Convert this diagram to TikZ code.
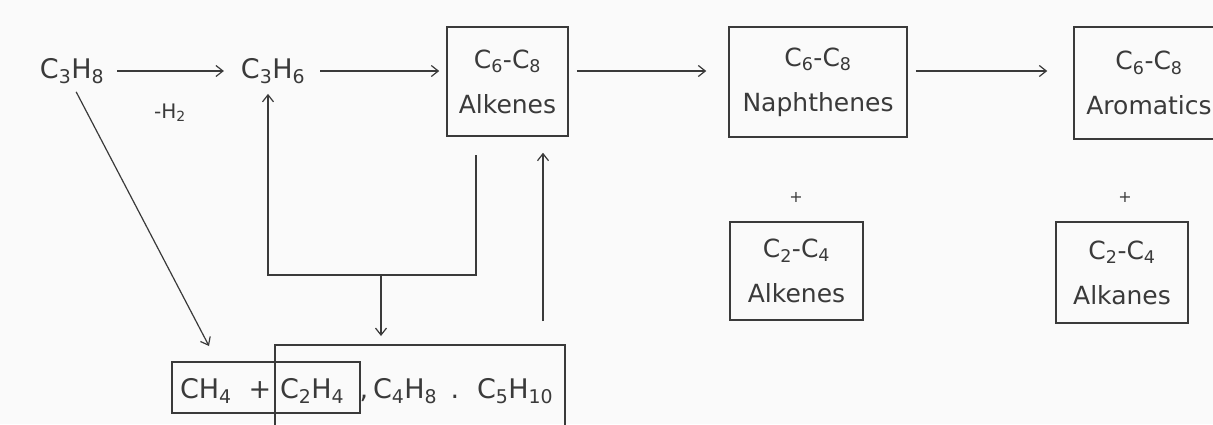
\documentclass[tikz,border=0pt]{standalone}
\usepackage{fontspec}
\setmainfont{DejaVu Sans}
\usetikzlibrary{arrows.meta}
\definecolor{ink}{HTML}{3A3A3A}
\definecolor{paper}{HTML}{FAFAFA}
\newcommand\chsub[1]{\textsubscript{#1}}

\begin{document}
\begin{tikzpicture}[x=1pt,y=-1pt,
  every node/.style={text=ink},
  chem/.style={inner sep=0pt, outer sep=0pt, font=\fontsize{27}{32}\selectfont},
  note/.style={inner sep=0pt, font=\fontsize{20}{24}\selectfont},
  stage/.style={draw=ink, line width=1.5pt, inner sep=0pt, align=center,
    font=\fontsize{25}{45}\selectfont},
  frame/.style={draw=ink, line width=1.4pt, inner sep=0pt},
  flow/.style={draw=ink, line width=1.2pt,
    -{Straight Barb[length=7pt,width=11pt,line width=1.2pt]}},
  plain/.style={draw=ink, line width=1.2pt}]

% page
\fill[paper] (0,0) rectangle (1213,424);
\useasboundingbox (0,0) rectangle (1213,424);

% feed and first product
\node[chem] (c3h8) at (72,71) {C\chsub{3}H\chsub{8}};
\node[chem] (c3h6) at (273,71) {C\chsub{3}H\chsub{6}};
\node[note] (dehyd) at (170,113) {-H\chsub{2}};

% main reaction stages
\node[stage, minimum width=121, minimum height=109] (alk) at (507.5,81.5)
  {C\chsub{6}-C\chsub{8}\\Alkenes};
\node[stage, minimum width=178, minimum height=110] (naph) at (818,82)
  {C\chsub{6}-C\chsub{8}\\Naphthenes};
\node[stage, minimum width=150, minimum height=112] (arom) at (1149,83)
  {C\chsub{6}-C\chsub{8}\\Aromatics};

% by-products
\node[note, font=\fontsize{16}{18}\selectfont] (plusA) at (796,197) {+};
\node[note, font=\fontsize{16}{18}\selectfont] (plusB) at (1125,197) {+};
\node[stage, minimum width=133, minimum height=98] (c24e) at (796.5,271)
  {C\chsub{2}-C\chsub{4}\\Alkenes};
\node[stage, minimum width=132, minimum height=101] (c24a) at (1122,272.5)
  {C\chsub{2}-C\chsub{4}\\Alkanes};

% cracking products
\node[frame, minimum width=188, minimum height=51] (light) at (266,387.5) {};
\draw[plain, line width=1.4pt] (275,440) |- (565,345) -- (565,440);
\coordinate (heavytop) at (381,345);
\node[chem, anchor=base west] (ch4) at (180,398) {CH\chsub{4}};
\node[chem, anchor=base] (plusG) at (260,398) {+};
\node[chem, anchor=base west] (c2h4) at (280,398) {C\chsub{2}H\chsub{4}};
\node[chem, anchor=base] (sepA) at (364,398) {,};
\node[chem, anchor=base west] (c4h8) at (373,398) {C\chsub{4}H\chsub{8}};
\node[chem, anchor=base] (sepB) at (455,398) {.};
\node[chem, anchor=base west] (c5h10) at (477,398) {C\chsub{5}H\chsub{10}};

% main line
\draw[flow, shorten <=13pt, shorten >=17pt] (c3h8) -- (c3h6);
\draw[flow, shorten <=15pt, shorten >=7pt] (c3h6.east) -- (c3h6.east -| alk.west);
\draw[flow, shorten <=8pt, shorten >=22pt] (alk.east |- c3h6) -- (naph.west |- c3h6);
\draw[flow, shorten <=8pt, shorten >=26pt] (naph.east |- c3h6) -- (arom.west |- c3h6);

% cracking of propane
\coordinate (lightin) at (209,346);
\draw[flow, shorten <=9pt] (c3h8.south) -- (lightin);

% recycle loop
\coordinate (alkout) at (476,155);
\coordinate (loopR) at (476,275);
\coordinate (loopL) at (268,275);
\coordinate (loopD) at (381,275);
\draw[flow, shorten >=10pt] (alkout) -- (loopR) -- (loopL) -- (loopL |- c3h6.south);
\draw[flow, shorten >=9pt] (loopD) -- (loopD |- heavytop);
\coordinate (recyc) at (543,321);
\draw[flow, shorten >=16pt] (recyc) -- (recyc |- alk.south);
\end{tikzpicture}
\end{document}
